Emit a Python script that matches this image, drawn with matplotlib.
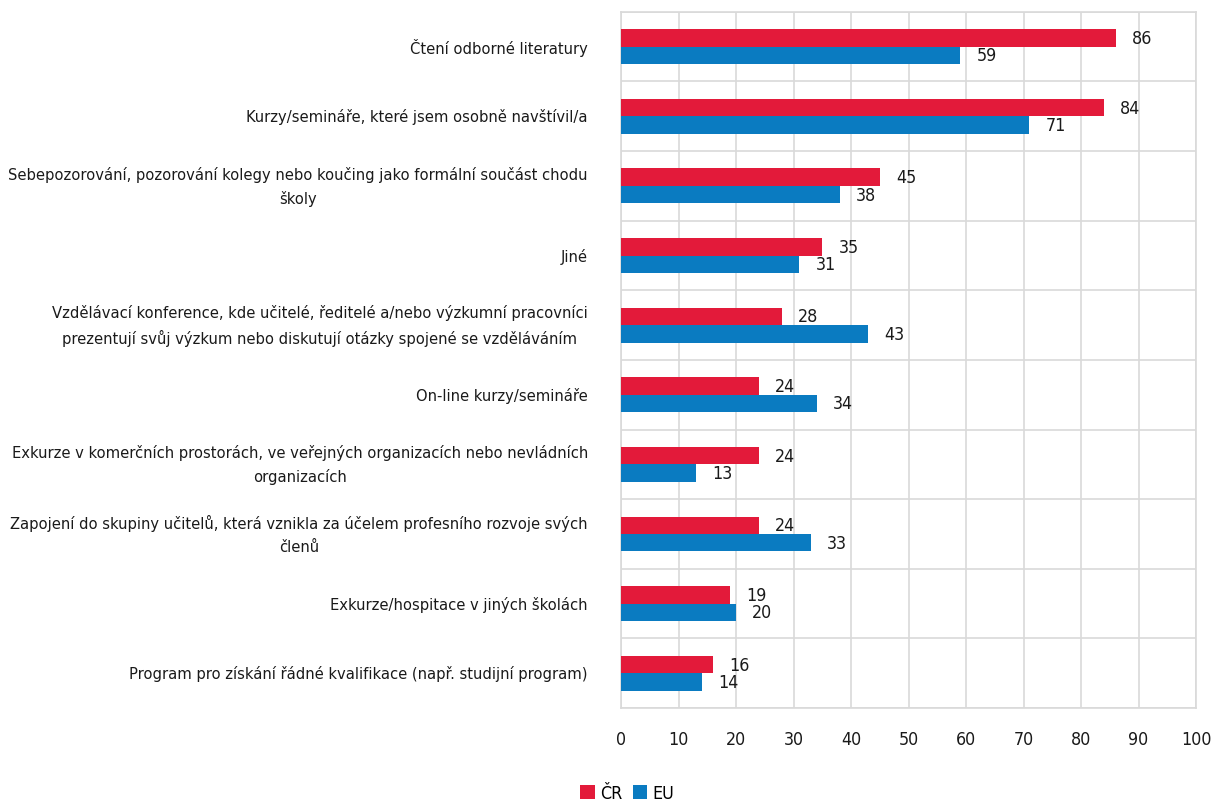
import numpy as np
import matplotlib.pyplot as plt
from matplotlib import font_manager

# look for a narrow/condensed face, otherwise fall back to DejaVu Sans
font = 'DejaVu Sans'
condensed = False
for f in font_manager.fontManager.ttflist:
    n = (f.name + ' ' + str(f.stretch)).lower()
    if ('narrow' in n or 'condensed' in n) and f.weight in (400, 'normal', 'regular'):
        font = f.name
        condensed = True
        break
plt.rcParams['font.family'] = [font, 'DejaVu Sans']
if condensed:
    plt.rcParams['font.stretch'] = 'condensed'
fs = 11.8 if condensed else 10.2

kategorie = [
    'Čtení odborné literatury',
    'Kurzy/semináře, které jsem osobně navštívil/a',
    'Sebepozorování, pozorování kolegy nebo koučing jako formální součást chodu\nškoly',
    'Jiné',
    'Vzdělávací konference, kde učitelé, ředitelé a/nebo výzkumní pracovníci\nprezentují svůj výzkum nebo diskutují otázky spojené se vzděláváním',
    'On-line kurzy/semináře',
    'Exkurze v komerčních prostorách, ve veřejných organizacích nebo nevládních\norganizacích',
    'Zapojení do skupiny učitelů, která vznikla za účelem profesního rozvoje svých\nčlenů',
    'Exkurze/hospitace v jiných školách',
    'Program pro získání řádné kvalifikace (např. studijní program)',
]
cr = [86, 84, 45, 35, 28, 24, 24, 24, 19, 16]
eu = [59, 71, 38, 31, 43, 34, 13, 33, 20, 14]

red = '#E31A3A'
blue = '#0A7BC1'

fig = plt.figure(figsize=(12.18, 8.03), dpi=100)
ax = fig.add_axes([0.51, 0.117, 0.472, 0.867])

y = np.arange(len(kategorie))
h = 0.25
ax.barh(y - h / 2, cr, height=h, color=red, label='ČR', zorder=3)
ax.barh(y + h / 2, eu, height=h, color=blue, label='EU', zorder=3)

for yi, v in zip(y, cr):
    ax.text(v + 2.8, yi - h / 2, str(v), va='center', ha='left', fontsize=fs + 1, color='#1a1a1a')
for yi, v in zip(y, eu):
    ax.text(v + 2.8, yi + h / 2, str(v), va='center', ha='left', fontsize=fs + 1, color='#1a1a1a')

ax.set_xlim(0, 100)
ax.set_ylim(len(kategorie) - 0.5, -0.5)
ax.set_xticks(np.arange(0, 101, 10))
ax.set_yticks(y)
ax.set_yticklabels(kategorie, fontsize=fs, multialignment='center', linespacing=1.6, va='center')
ax.tick_params(axis='both', length=0, colors='#1a1a1a')
ax.tick_params(axis='x', labelsize=fs + 1, pad=16)
ax.tick_params(axis='y', pad=24)

ax.set_yticks(np.arange(len(kategorie) + 1) - 0.5, minor=True)
ax.grid(axis='x', color='#D9D9D9', linewidth=1.2, zorder=0)
ax.grid(axis='y', which='minor', color='#D9D9D9', linewidth=1.2, zorder=0)
ax.grid(axis='y', which='major', visible=False)
ax.tick_params(axis='y', which='minor', length=0)
for s in ax.spines.values():
    s.set_color('#D9D9D9')
    s.set_linewidth(1.2)

fig.legend(loc='lower center', bbox_to_anchor=(0.515, -0.02), ncol=2, frameon=False,
           fontsize=fs + 1, handlelength=0.8, handleheight=0.8, handletextpad=0.3, columnspacing=0.6)

fig.savefig('out.png', dpi=100)
